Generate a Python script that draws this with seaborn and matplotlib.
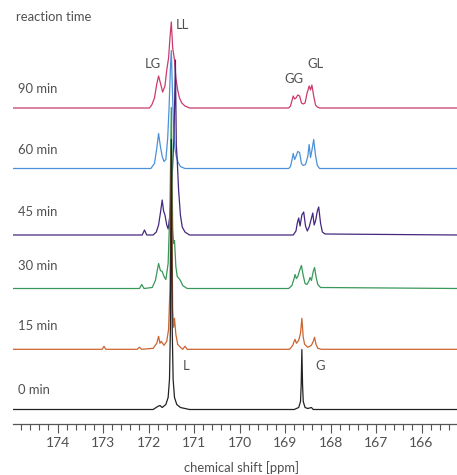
import pandas as pd
import matplotlib.pyplot as plt
from matplotlib.ticker import MultipleLocator
import seaborn as sns

sns.set_theme(style="white")
plt.rcParams['font.family'] = ['Lato', 'DejaVu Sans']

# spectra: chemical shift (ppm) and intensity (px above baseline)
ppm_0 = [175.0, 171.9, 171.8, 171.75, 171.7, 171.62, 171.57, 171.54, 171.52, 171.5, 171.48, 171.46,
         171.43, 171.38, 171.3, 171.1, 168.8, 168.7, 168.66, 168.645, 168.63, 168.615, 168.6, 168.56,
         168.5, 168.42, 168.38, 168.3, 165.2]
int_0 = [0, 0, 3, 4, 2, 5, 12, 30, 80, 270, 80, 30, 12, 5, 2, 0, 0, 2, 8, 25, 60, 25, 8, 2, 1, 2, 0, 0, 0]

ppm_15 = [175.0, 173.02, 172.98, 172.94, 172.25, 172.2, 172.15, 171.9, 171.82, 171.78, 171.75, 171.72,
          171.66, 171.6, 171.56, 171.53, 171.5, 171.47, 171.45, 171.43, 171.4, 171.36, 171.3, 171.25,
          171.2, 171.15, 171.0, 168.9, 168.83, 168.8, 168.78, 168.75, 168.7, 168.66, 168.63, 168.6,
          168.57, 168.5, 168.42, 168.38, 168.35, 168.32, 168.28, 168.2, 165.2]
int_15 = [0, 0, 3, 0, 0, 2, 0, 1, 6, 13, 6, 8, 4, 8, 20, 60, 200, 40, 22, 31, 15, 5, 2, 0, 3, 0, 0,
          0, 4, 8, 10, 6, 9, 16, 31, 12, 5, 2, 4, 8, 12, 5, 1, 0, 0]

ppm_30 = [175.0, 172.2, 172.15, 172.1, 171.92, 171.85, 171.78, 171.74, 171.7, 171.66, 171.62, 171.57,
          171.53, 171.5, 171.47, 171.45, 171.43, 171.4, 171.37, 171.33, 171.3, 171.25, 171.15, 168.92,
          168.85, 168.8, 168.78, 168.75, 168.72, 168.68, 168.64, 168.6, 168.56, 168.52, 168.48, 168.45,
          168.42, 168.38, 168.35, 168.32, 168.28, 168.22, 165.2]
int_30 = [0, 0, 4, 0, 1, 8, 25, 18, 17, 12, 9, 25, 80, 181, 60, 45, 48, 22, 12, 10, 8, 3, 0, 0,
          3, 10, 14, 10, 12, 18, 23, 13, 5, 4, 7, 11, 8, 17, 21, 12, 4, 1, 0]

ppm_45 = [175.0, 172.14, 172.09, 172.04, 171.9, 171.83, 171.78, 171.74, 171.7, 171.67, 171.64, 171.6,
          171.57, 171.53, 171.48, 171.44, 171.41, 171.39, 171.37, 171.34, 171.3, 171.26, 171.2, 171.1,
          168.82, 168.76, 168.73, 168.7, 168.67, 168.63, 168.59, 168.55, 168.51, 168.47, 168.43, 168.39,
          168.36, 168.33, 168.29, 168.26, 168.22, 168.18, 168.12, 165.2]
int_45 = [0, 0, 5, 0, 0, 3, 10, 22, 35, 24, 20, 10, 6, 20, 60, 100, 175, 90, 75, 45, 20, 8, 3, 0,
          0, 4, 12, 17, 9, 20, 23, 9, 4, 8, 15, 22, 10, 14, 24, 28, 12, 3, 1, 0]

ppm_60 = [175.0, 171.95, 171.87, 171.82, 171.78, 171.74, 171.7, 171.66, 171.62, 171.58, 171.55, 171.52,
          171.5, 171.48, 171.45, 171.42, 171.39, 171.35, 171.3, 171.2, 168.92, 168.88, 168.85, 168.82,
          168.79, 168.76, 168.72, 168.68, 168.64, 168.6, 168.55, 168.5, 168.47, 168.44, 168.41, 168.37,
          168.33, 168.29, 168.24, 165.2]
int_60 = [0, 0, 5, 20, 35, 22, 12, 7, 9, 30, 60, 100, 118, 85, 40, 20, 12, 6, 2, 0, 0, 2, 8, 15,
          9, 12, 17, 16, 5, 3, 4, 12, 24, 11, 18, 29, 13, 3, 0, 0]

ppm_90 = [175.0, 171.98, 171.93, 171.87, 171.82, 171.78, 171.74, 171.69, 171.64, 171.6, 171.56, 171.53,
          171.5, 171.47, 171.43, 171.4, 171.36, 171.32, 171.27, 171.2, 171.1, 168.92, 168.88, 168.85,
          168.82, 168.79, 168.76, 168.72, 168.68, 168.64, 168.6, 168.56, 168.52, 168.47, 168.44, 168.41,
          168.37, 168.33, 168.29, 168.24, 165.2]
int_90 = [0, 0, 3, 10, 24, 32, 25, 16, 22, 38, 50, 70, 86, 60, 48, 30, 18, 10, 5, 2, 0, 0, 2, 7,
          12, 9, 10, 13, 12, 5, 4, 5, 14, 22, 18, 23, 12, 3, 1, 0, 0]

times = ['90 min', '60 min', '45 min', '30 min', '15 min', '0 min']
spectra = {
    '90 min': (ppm_90, int_90),
    '60 min': (ppm_60, int_60),
    '45 min': (ppm_45, int_45),
    '30 min': (ppm_30, int_30),
    '15 min': (ppm_15, int_15),
    '0 min': (ppm_0, int_0),
}
# vertical stacking of the traces
offsets = {'90 min': 316, '60 min': 255.5, '45 min': 189, '30 min': 135.5, '15 min': 74.7, '0 min': 14.5}
colors = {'90 min': '#cc3a6c', '60 min': '#4a91da', '45 min': '#45277f',
          '30 min': '#38985a', '15 min': '#cc6430', '0 min': '#222222'}

rows = []
for t in times:
    xs, ys = spectra[t]
    for x, y in zip(xs, ys):
        rows.append({'time': t, 'ppm': x, 'signal': y + offsets[t]})
df = pd.DataFrame(rows)

fig = plt.figure(figsize=(4.57, 4.75), dpi=100)
ax = fig.add_axes([13 / 457, 51 / 475, 444 / 457, 424 / 475])

sns.lineplot(data=df, x='ppm', y='signal', hue='time', hue_order=times, palette=colors,
             estimator=None, sort=False, linewidth=0.9, legend=False, ax=ax)

ax.set_xlim(174.98, 165.22)
ax.set_ylim(0, 424)
for s in ['left', 'top', 'right']:
    ax.spines[s].set_visible(False)
ax.spines['bottom'].set_color('#555555')
ax.spines['bottom'].set_linewidth(0.9)
ax.set_yticks([])
ax.set_ylabel('')
ax.xaxis.set_major_locator(MultipleLocator(1))
ax.xaxis.set_minor_locator(MultipleLocator(0.2))
ax.tick_params(axis='x', which='major', direction='out', length=6.2, width=0.8, color='#555555',
               labelsize=10, labelcolor='#505050', pad=3, bottom=True)
ax.tick_params(axis='x', which='minor', direction='out', length=4.3, width=0.8, color='#555555', bottom=True)
ax.set_xticks([174, 173, 172, 171, 170, 169, 168, 167, 166])
ax.set_xlabel('chemical shift [ppm]', fontsize=9.4, color='#505050')
ax.xaxis.set_label_coords((241 - 13) / 444, -44 / 424)
ax.xaxis.label.set_va('center')

txt = dict(fontsize=9.4, color='#505050', va='center', ha='left')
ax.text(174.92, 407, 'reaction time', **txt)
label_y = {'90 min': 335, '60 min': 273.5, '45 min': 211.5, '30 min': 157.5, '15 min': 97.5, '0 min': 33.5}
for t in times:
    ax.text(174.87, label_y[t], t, **txt)
ax.text(171.41, 399, 'LL', **txt)
ax.text(172.09, 360, 'LG', **txt)
ax.text(169.02, 345, 'GG', **txt)
ax.text(168.51, 360, 'GL', **txt)
ax.text(171.25, 58, 'L', **txt)
ax.text(168.34, 58, 'G', **txt)

fig.savefig('out.png', dpi=100)
